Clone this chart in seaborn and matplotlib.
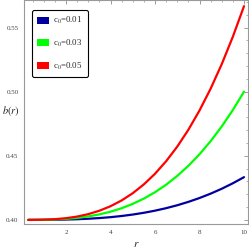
import matplotlib
matplotlib.use("Agg")
import matplotlib.pyplot as plt
import seaborn as sns
import pandas as pd
from matplotlib.patches import Patch
from matplotlib.ticker import MultipleLocator

r_vals = [0.3, 0.5, 1.0, 1.5, 2.0, 2.5, 3.0, 3.5, 4.0, 4.5, 5.0, 5.5, 6.0,
          6.5, 7.0, 7.5, 8.0, 8.5, 9.0, 9.5, 10.0]
b_c001 = [0.40000, 0.40000, 0.40003, 0.40011, 0.40027, 0.40052, 0.40090, 0.40143,
          0.40213, 0.40304, 0.40417, 0.40555, 0.40720, 0.40915, 0.41143, 0.41406,
          0.41707, 0.42047, 0.42430, 0.42858, 0.43333]
b_c003 = [0.40000, 0.40001, 0.40010, 0.40034, 0.40080, 0.40156, 0.40270, 0.40429,
          0.40640, 0.40911, 0.41250, 0.41664, 0.42160, 0.42746, 0.43430, 0.44219,
          0.45120, 0.46141, 0.47290, 0.48574, 0.50000]
b_c005 = [0.40000, 0.40002, 0.40017, 0.40056, 0.40133, 0.40260, 0.40450, 0.40715,
          0.41067, 0.41519, 0.42083, 0.42773, 0.43600, 0.44577, 0.45717, 0.47031,
          0.48533, 0.50235, 0.52150, 0.54290, 0.56667]
labels = ["c$_0$=0.01", "c$_0$=0.03", "c$_0$=0.05"]
colors = ["#0000A0", "#00FF00", "#FF0000"]
x_ticks = [2, 4, 6, 8, 10]
y_ticks = [0.40, 0.45, 0.50, 0.55]
y_ticklabels = ["0.40", "0.45", "0.50", "0.55"]

rows = []
for lab, ys in zip(labels, [b_c001, b_c003, b_c005]):
    for r, b in zip(r_vals, ys):
        rows.append({"r": r, "b": b, "series": lab})
df = pd.DataFrame(rows)

sns.set_style("white")
plt.rcParams["font.family"] = ["Liberation Serif", "DejaVu Serif"]
plt.rcParams["mathtext.fontset"] = "stix"

fig = plt.figure(figsize=(2.49, 2.49), dpi=100)
ax = fig.add_axes([24/249, 25/249, 224/249, 224/249])
sns.lineplot(data=df, x="r", y="b", hue="series", palette=colors,
             hue_order=labels, linewidth=1.6, ax=ax, legend=False)

ax.set_xlim(0.11, 10.18)
ax.set_ylim(0.3968, 0.5715)
ax.set_xticks(x_ticks)
ax.set_xticklabels([str(t) for t in x_ticks])
ax.set_yticks(y_ticks)
ax.set_yticklabels(y_ticklabels)
ax.xaxis.set_minor_locator(MultipleLocator(0.5))
ax.yaxis.set_minor_locator(MultipleLocator(0.01))
ax.tick_params(which="both", direction="in", top=True, right=True,
               labelsize=5, colors="#777777", labelcolor="#444444")
ax.tick_params(which="major", length=3, width=0.5, pad=4)
ax.tick_params(which="minor", length=1.5, width=0.4)
for s in ax.spines.values():
    s.set_color("#999999")
    s.set_linewidth(0.8)

ax.set_xlabel("")
ax.set_ylabel("")
fig.text(136/249, 1 - 244/249, "$r$", fontsize=8, ha="center", va="center",
         color="#222222")
fig.text(1.5/249, 1 - 111/249, "$b(r)$", fontsize=7.5, ha="left", va="center",
         color="#222222")

handles = [Patch(facecolor=c, edgecolor="none") for c in colors]
leg = ax.legend(handles, labels, loc="upper left",
                bbox_to_anchor=(8/224, 1 - 10/224),
                fontsize=6.3, frameon=True, fancybox=True, edgecolor="black",
                handlelength=1.3, handleheight=0.9, labelspacing=1.3,
                handletextpad=0.5, borderpad=0.6, borderaxespad=0)
leg.get_frame().set_linewidth(0.8)
leg.get_frame().set_alpha(1)

fig.savefig("out.png", dpi=100)
